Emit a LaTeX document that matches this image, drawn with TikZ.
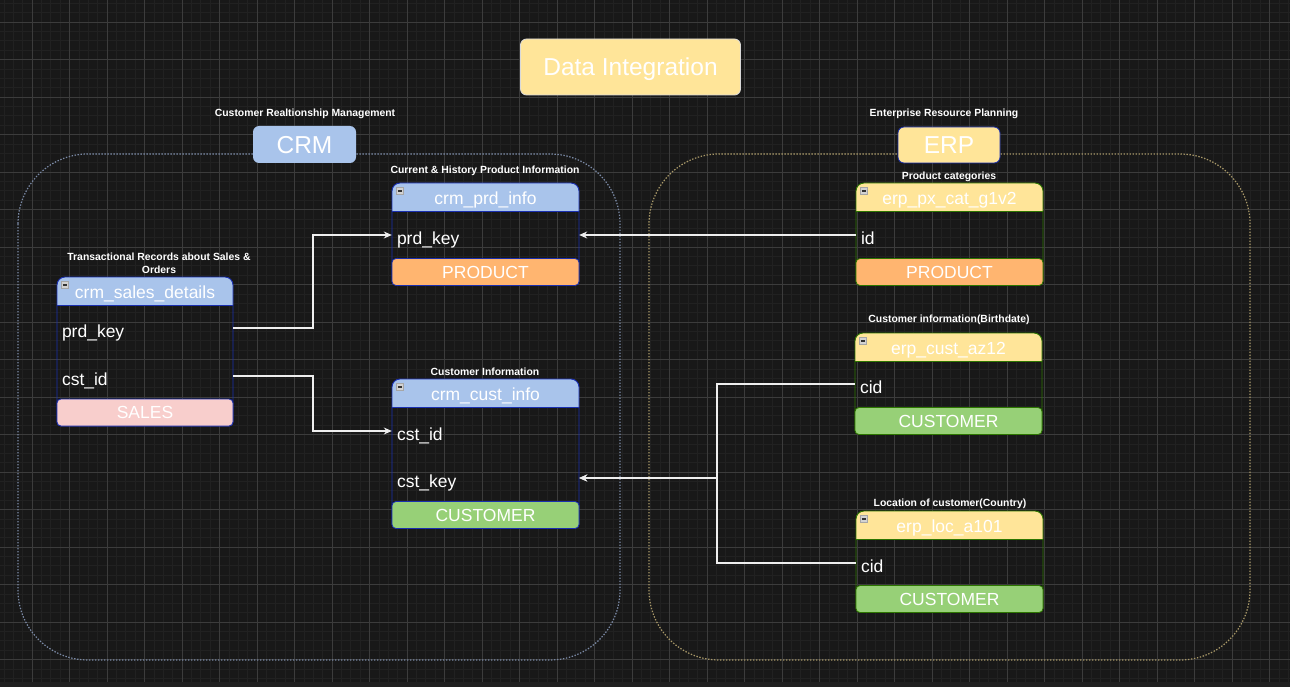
\documentclass[tikz,border=0pt]{standalone}
\usepackage{fontspec}
\setmainfont{Liberation Sans}
\usetikzlibrary{arrows.meta}

\definecolor{bg}{HTML}{181818}
\definecolor{bgband}{HTML}{202020}
\definecolor{gridminor}{HTML}{212121}
\definecolor{gridmajor}{HTML}{3C3C3C}
\definecolor{crmframe}{HTML}{7B8AA6}
\definecolor{erpframe}{HTML}{A89868}
\definecolor{lblue}{HTML}{A9C4EB}
\definecolor{lyellow}{HTML}{FFE599}
\definecolor{lorange}{HTML}{FFB570}
\definecolor{lpink}{HTML}{F8CECC}
\definecolor{lgreen}{HTML}{97D077}
\definecolor{crmedge}{HTML}{1A2FB0}
\definecolor{erpedge}{HTML}{2D7600}
\definecolor{wire}{HTML}{EEEEEE}

\tikzset{
  caption/.style={text=white, font=\bfseries\fontsize{10.4}{13}\selectfont, align=center, inner sep=0pt},
  bigbox/.style={rounded corners=6pt, text=white, font=\fontsize{24.5}{28}\selectfont,
    inner sep=0pt, text depth=0pt},
  hdrtext/.style={text=white, font=\fontsize{17.5}{20}\selectfont, inner sep=0pt},
  foot/.style={rounded corners=4pt, text=white, font=\fontsize{17.5}{20}\selectfont,
    minimum height=27pt, inner sep=0pt, line width=0.8pt},
  tblline/.style={line width=0.9pt},
  minusbox/.style={draw=gray!70, fill=gray!35, minimum size=7pt, inner sep=0pt,
    path picture={\draw[black!80, line width=1.2pt]
      ([xshift=1.3pt]path picture bounding box.west) -- ([xshift=-1.3pt]path picture bounding box.east);}},
  field/.style={minimum width=#1, minimum height=0pt, inner sep=0pt},
  fieldlbl/.style={anchor=base west, xshift=5pt, yshift=-9.5pt, text=white,
    font=\fontsize{17.5}{20}\selectfont, inner sep=0pt},
  conn/.style={draw=wire, line width=1.1pt, -{Stealth[length=8pt,width=7pt]}},
  frame/.style={line width=1.2pt, dash pattern=on 1.4pt off 1.6pt, rounded corners=70pt},
}

% table outline: name, left x, top y, width, bottom y, header fill, edge colour
\newcommand\dbtable[7]{%
  \filldraw[fill=#6, draw=#7, tblline, rounded corners=8pt]
    (#2,#3+28) -- (#2,#3) -- (#2+#4,#3) -- (#2+#4,#3+28);
  \draw[draw=#7, tblline, rounded corners=4pt]
    (#2,#3+28) -- (#2,#5) -- (#2+#4,#5) -- (#2+#4,#3+28);
  \draw[draw=#7, tblline] (#2,#3+28) -- (#2+#4,#3+28);
  \node[minusbox] (#1-min) at (#2+8,#3+8) {};
}

\begin{document}
\begin{tikzpicture}[x=1pt, y=-1pt]
\useasboundingbox (0,0) rectangle (1290,687);
\fill[bg] (0,0) rectangle (1290,687);

% background grid
\foreach \i in {0,...,138} {
  \draw[gridminor, line width=0.6pt] ({-5.5+9.375*\i},0) -- ++(0,687);
}
\foreach \j in {0,...,75} {
  \draw[gridminor, line width=0.6pt] (0,{-15.5+9.375*\j}) -- ++(1290,0);
}
\foreach \i in {0,...,35} {
  \draw[gridmajor, line width=0.8pt] ({-5.5+37.5*\i},0) -- ++(0,687);
}
\foreach \j in {0,...,19} {
  \draw[gridmajor, line width=0.8pt] (0,{-15.5+37.5*\j}) -- ++(1290,0);
}
\fill[bgband] (0,682) rectangle (1290,687);

% system frames
\draw[frame, crmframe] (18,154) rectangle (620,660);
\draw[frame, erpframe] (649,154) rectangle (1250,660);

% title and system boxes
\node[bigbox, fill=lyellow, draw=white!85!black, line width=0.8pt,
  minimum width=220pt, minimum height=56pt] (title) at (630.5,67) {Data Integration};

\node[caption] (crm-cap) at (305,113.5) {Customer Realtionship Management};
\node[bigbox, fill=lblue, minimum width=103pt, minimum height=37pt] (crm) at (304.5,144.5) {CRM};

\node[caption] (erp-cap) at (944,113.5) {Enterprise Resource Planning};
\node[bigbox, fill=lyellow, draw=crmedge, line width=0.8pt,
  minimum width=102pt, minimum height=36pt] (erp) at (949,145) {ERP};

% crm_sales_details
\node[caption] (sd-cap) at (159,263.5) {Transactional Records about Sales \&\\Orders};
\dbtable{sd}{57}{277}{176}{426}{lblue}{crmedge}
\node[hdrtext] (sd-h) at (145,294) {crm\_sales\_details};
\node[field=176pt, label={[fieldlbl]west:prd\_key}] (sd-prd) at (145,328) {};
\node[field=176pt, label={[fieldlbl]west:cst\_id}] (sd-cst) at (145,376) {};
\node[foot, fill=lpink, draw=crmedge, minimum width=176pt] (sd-foot) at (145,412.5) {SALES};

% crm_prd_info
\node[caption] (pi-cap) at (485,170.5) {Current \& History Product Information};
\dbtable{pi}{392}{183}{187}{285}{lblue}{crmedge}
\node[hdrtext] (pi-h) at (485.5,200) {crm\_prd\_info};
\node[field=187pt, label={[fieldlbl]west:prd\_key}] (pi-prd) at (485.5,235) {};
\node[foot, fill=lorange, draw=crmedge, minimum width=187pt] (pi-foot) at (485.5,272) {PRODUCT};

% crm_cust_info
\node[caption] (ci-cap) at (485,371.5) {Customer Information};
\dbtable{ci}{392}{379}{187}{528}{lblue}{crmedge}
\node[hdrtext] (ci-h) at (485.5,396) {crm\_cust\_info};
\node[field=187pt, label={[fieldlbl]west:cst\_id}] (ci-id) at (485.5,431) {};
\node[field=187pt, label={[fieldlbl]west:cst\_key}] (ci-key) at (485.5,478) {};
\node[foot, fill=lgreen, draw=crmedge, minimum width=187pt] (ci-foot) at (485.5,515) {CUSTOMER};

% erp_px_cat_g1v2
\node[caption] (px-cap) at (949,176.5) {Product categories};
\dbtable{px}{856}{183}{187}{285}{lyellow}{erpedge}
\node[hdrtext] (px-h) at (949.5,200) {erp\_px\_cat\_g1v2};
\node[field=187pt, label={[fieldlbl]west:id}] (px-id) at (949.5,235) {};
\node[foot, fill=lorange, draw=erpedge, minimum width=187pt] (px-foot) at (949.5,272) {PRODUCT};

% erp_cust_az12
\node[caption] (az-cap) at (949,319.5) {Customer information(Birthdate)};
\dbtable{az}{855}{333}{187}{434}{lyellow}{erpedge}
\node[hdrtext] (az-h) at (948.5,350) {erp\_cust\_az12};
\node[field=187pt, label={[fieldlbl]west:cid}] (az-cid) at (948.5,384) {};
\node[foot, fill=lgreen, draw=erpedge, minimum width=187pt] (az-foot) at (948.5,421) {CUSTOMER};

% erp_loc_a101
\node[caption] (loc-cap) at (950,503.5) {Location of customer(Country)};
\dbtable{loc}{856}{511}{187}{612}{lyellow}{erpedge}
\node[hdrtext] (loc-h) at (949.5,528) {erp\_loc\_a101};
\node[field=187pt, label={[fieldlbl]west:cid}] (loc-cid) at (949.5,563) {};
\node[foot, fill=lgreen, draw=erpedge, minimum width=187pt] (loc-foot) at (949.5,599) {CUSTOMER};

% relations
\coordinate (jl) at (313,0);
\coordinate (jr) at (717,0);
\draw[conn] (sd-prd.east) -- (sd-prd.east -| jl) |- (pi-prd.west);
\draw[conn] (sd-cst.east) -- (sd-cst.east -| jl) |- (ci-id.west);
\draw[conn] (px-id.west) -- (pi-prd.east);
\draw[conn] (az-cid.west) -- (az-cid.west -| jr) |- (ci-key.east);
\draw[conn] (loc-cid.west) -- (loc-cid.west -| jr) |- (ci-key.east);
\end{tikzpicture}
\end{document}
